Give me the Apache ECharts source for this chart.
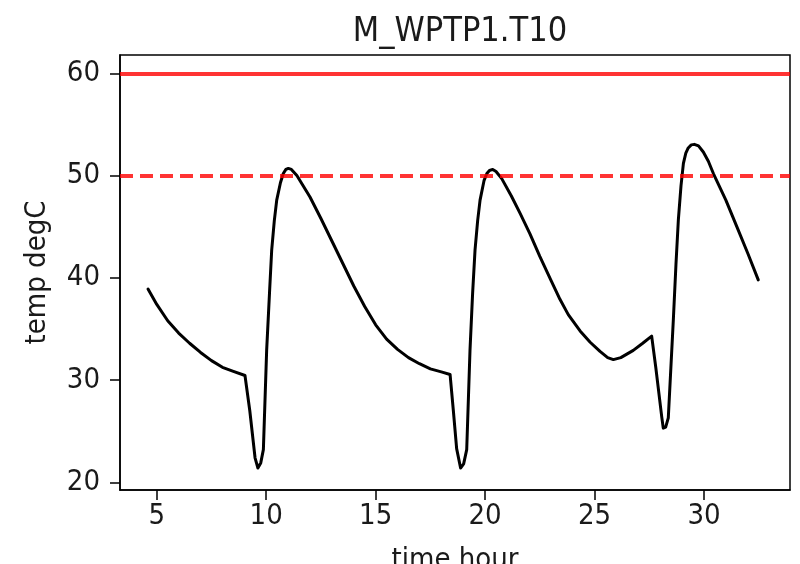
<!DOCTYPE html>
<html>
<head>
<meta charset="utf-8">
<script src="https://cdn.jsdelivr.net/npm/echarts@6/dist/echarts.min.js"></script>
<style>
html,body{margin:0;padding:0;background:#fff;}
#chart{width:800px;height:564px;}
</style>
</head>
<body>
<div id="chart"></div>
<script>
var titleText = 'M_WPTP1.T10';
var xName = 'time hour';
var yName = 'temp degC';
var xTicks = [5, 10, 15, 20, 25, 30];
var yTicks = [20, 30, 40, 50, 60];
var limitSolid = 60;
var limitDashed = 50;

var time = [4.6,5.0,5.5,6.0,6.5,7.0,7.5,8.0,8.5,9.03,9.25,9.49,9.62,9.75,9.87,10.02,10.15,10.25,10.37,10.48,10.65,10.78,10.9,11.01,11.15,11.4,12.0,12.5,13.0,13.5,14.0,14.5,15.0,15.5,16.0,16.5,17.0,17.5,18.0,18.4,18.55,18.7,18.88,19.02,19.16,19.31,19.43,19.54,19.66,19.77,19.95,20.08,20.2,20.35,20.5,20.76,21.2,21.6,22.05,22.5,23.0,23.42,23.8,24.34,24.8,25.25,25.6,25.86,26.2,26.77,27.2,27.61,27.8,28.07,28.14,28.25,28.37,28.6,28.72,28.83,28.95,29.06,29.17,29.28,29.42,29.56,29.75,29.97,30.2,30.43,31.0,31.5,32.0,32.48];
var temp = [38.9,37.4,35.8,34.6,33.6,32.7,31.9,31.25,30.85,30.45,27.0,22.4,21.4,21.9,23.2,32.9,38.5,42.7,45.6,47.6,49.3,50.2,50.6,50.7,50.6,50.0,47.9,45.8,43.6,41.4,39.2,37.2,35.4,34.0,33.0,32.2,31.6,31.1,30.8,30.55,27.0,23.3,21.4,21.8,23.2,32.9,38.5,42.7,45.6,47.6,49.5,50.2,50.5,50.6,50.4,49.7,48.0,46.3,44.3,42.1,39.8,37.9,36.4,34.8,33.7,32.8,32.2,32.0,32.2,32.9,33.6,34.3,31.2,26.4,25.3,25.4,26.3,35.9,41.3,45.7,49.0,51.2,52.2,52.7,53.0,53.05,52.9,52.3,51.4,50.2,47.6,45.0,42.4,39.8];

var FONT = "'DejaVu Sans Condensed', 'DejaVu Sans', sans-serif";
var TXT = '#1a1a1a';

var chart = echarts.init(document.getElementById('chart'), null, {renderer: 'canvas'});
chart.setOption({
  animation: false,
  backgroundColor: '#ffffff',
  title: {
    text: titleText,
    left: 455,
    top: 10,
    textAlign: 'center',
    textStyle: {fontFamily: FONT, fontSize: 34, fontWeight: 'normal', color: TXT}
  },
  grid: {left: 120, right: 10, top: 55, bottom: 74, show: true, borderColor: '#000', borderWidth: 1.5, backgroundColor: 'transparent', outerBoundsMode: 'none', containLabel: false},
  xAxis: {
    type: 'value', min: 3.32, max: 33.93,
    name: xName, nameLocation: 'middle', nameGap: 56,
    nameTextStyle: {fontFamily: FONT, fontSize: 29, color: TXT},
    axisLine: {show: true, onZero: false, lineStyle: {color: '#000', width: 1.5}},
    axisTick: {show: true, length: 10, customValues: xTicks, lineStyle: {color: '#000', width: 1.5}},
    axisLabel: {customValues: xTicks, margin: 12, fontFamily: FONT, fontSize: 29, color: TXT},
    splitLine: {show: false}
  },
  yAxis: {
    type: 'value', min: 19.25, max: 61.79,
    name: yName, nameLocation: 'middle', nameGap: 68, nameRotate: 90,
    nameTextStyle: {fontFamily: FONT, fontSize: 29, color: TXT},
    axisLine: {show: true, onZero: false, lineStyle: {color: '#000', width: 1.5}},
    axisTick: {show: true, length: 10, customValues: yTicks, lineStyle: {color: '#000', width: 1.5}},
    axisLabel: {customValues: yTicks, margin: 20, fontFamily: FONT, fontSize: 29, color: TXT},
    splitLine: {show: false}
  },
  series: [{
    type: 'line',
    data: time.map(function (t, i) { return [t, temp[i]]; }),
    showSymbol: false,
    smooth: false,
    lineStyle: {color: '#000', width: 3, join: 'round', cap: 'round'},
    z: 3,
    markLine: {
      silent: true,
      symbol: 'none',
      label: {show: false},
      animation: false,
      data: [
        {yAxis: limitSolid, lineStyle: {color: 'rgba(255,0,0,0.8)', width: 4, type: 'solid'}},
        {yAxis: limitDashed, lineStyle: {color: 'rgba(255,0,0,0.8)', width: 4, type: [13, 7]}}
      ]
    }
  }]
});
</script>
</body>
</html>
